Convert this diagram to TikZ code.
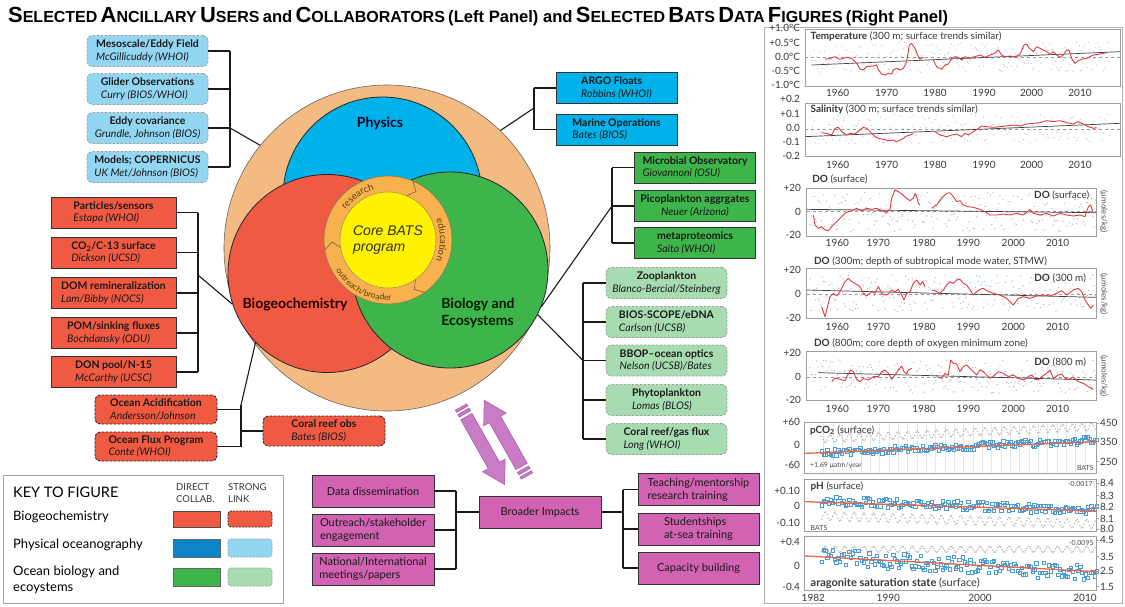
\documentclass[tikz,border=0pt]{standalone}
\usepackage{fontspec}
\setmainfont{Lato}
\newfontfamily\titlefont{Liberation Sans}
\newfontfamily\corefont{Liberation Sans}
\usepackage{graphicx}
\usetikzlibrary{decorations.text}
\definecolor{cblue}{HTML}{00B2EA}
\definecolor{clblue}{HTML}{93D6F2}
\definecolor{cred}{HTML}{F15A42}
\definecolor{cgreen}{HTML}{3DB54A}
\definecolor{clgreen}{HTML}{A7DCB1}
\definecolor{cpeach}{HTML}{F3BA82}
\definecolor{cring}{HTML}{F7B24E}
\definecolor{cyel}{HTML}{FFF200}
\definecolor{cmag}{HTML}{D262B2}
\definecolor{carrow}{HTML}{C97BC6}
\definecolor{carrowd}{HTML}{A257A0}
\definecolor{ckeyblue}{HTML}{0D84C9}
\definecolor{cdot}{HTML}{8EA3DA}
\definecolor{cline}{HTML}{E23A3A}
\definecolor{csq}{HTML}{4A9CD3}
\definecolor{corange}{HTML}{E8664A}
\definecolor{ringtext}{HTML}{5A3A10}
\newcommand\TitleWord[2]{{\fontsize{18.5}{20}\selectfont #1}{\fontsize{13.5}{15}\selectfont #2}}
\newcommand\TitleSmall[1]{{\fontsize{14}{15}\selectfont #1}}
\begin{document}
\begin{tikzpicture}[x=1pt,y=-1pt,
 bx/.style={minimum width=121pt, minimum height=31pt, inner sep=1pt, font=\fontsize{10.5}{12.5}\selectfont, align=left, text=black!90},
 sbox/.style={bx, draw=black!80, line width=0.9pt},
 lbbox/.style={bx, fill=clblue, draw=gray!75, dash pattern=on 2.5pt off 1.5pt, rounded corners=5pt, line width=0.8pt},
 lgbox/.style={bx, fill=clgreen, draw=gray!75, dash pattern=on 2.5pt off 1.5pt, rounded corners=5pt, line width=0.8pt},
 rdbox/.style={bx, fill=cred, draw=black!85, dash pattern=on 2.5pt off 1.5pt, rounded corners=5pt, line width=0.9pt, minimum height=29pt},
 mbox/.style={sbox, fill=cmag, minimum height=32pt, font=\fontsize{11}{13}\selectfont},
 link/.style={draw=black!90, line width=1.1pt},
 venn/.style={circle, draw=black!85, line width=0.8pt, inner sep=0pt},
 clabel/.style={font=\bfseries\fontsize{14}{16.5}\selectfont, align=left},
 arr/.style={fill=carrow, draw=carrowd, line width=0.5pt},
 ringline/.style={draw=ringtext!80, line width=0.6pt},
 pframe/.style={draw=gray!75, line width=0.6pt},
 zero/.style={draw=gray!80, dashed, line width=0.5pt},
 trend/.style={draw=black!75, line width=0.7pt},
 redl/.style={draw=cline, line width=0.9pt, line join=round},
 ctxt/.style={font=\fontsize{10}{11}\selectfont, text=black!78, inner sep=0.5pt},
 stxt/.style={font=\fontsize{7}{8}\selectfont, text=black!70, inner sep=0.5pt},
 sq/.style={draw=csq, line width=0.45pt},
 keytxt/.style={font=\fontsize{13}{15.5}\selectfont, anchor=west, align=left, inner sep=0pt}
]
\useasboundingbox (0,0) rectangle (1125,606);
\pgfmathsetseed{7}

% ---------- title ----------
\node[anchor=west, inner sep=0pt] (title) at (8,17) {\resizebox{940pt}{!}{\titlefont\bfseries
 \TitleWord{S}{ELECTED} \TitleWord{A}{NCILLARY} \TitleWord{U}{SERS} \TitleSmall{and} \TitleWord{C}{OLLABORATORS} \TitleSmall{(Left Panel) and} \TitleWord{S}{ELECTED} \TitleWord{B}{ATS} \TitleWord{D}{ATA} \TitleWord{F}{IGURES} \TitleSmall{(Right Panel)}}};

% ---------- Venn ----------
\node[circle, draw=black!60, line width=0.6pt, fill=cpeach, minimum size=326pt, inner sep=0pt] (outer) at (387,248) {};
\node[venn, fill=cblue, minimum size=199pt] (phys) at (382.5,196.5) {};
\node[venn, fill=cred, minimum size=198pt] (bgc) at (327,273.5) {};
\node[venn, fill=cgreen, minimum size=196pt] (bio) at (450,270) {};
\node[circle, draw=ringtext!70, line width=0.6pt, fill=cring, minimum size=128pt, inner sep=0pt] (ring) at (388,240) {};
\node[circle, draw=ringtext!60, line width=0.5pt, fill=cyel, minimum size=96pt, inner sep=0pt] (core) at (388,240) {};
\node[font=\corefont\itshape\fontsize{14}{16}\selectfont, text=black!80, align=left] (coretxt) at (388,240) {Core BATS\\program};
\begin{scope}[shift={(388,240)}, y=1pt]
 \path[decorate, decoration={text along path, text align=center, text={|\fontsize{9.5}{10}\selectfont\color{ringtext}|research}}] (160:52) arc[start angle=160, end angle=90, radius=52];
 \path[decorate, decoration={text along path, text align=center, text={|\fontsize{9.5}{10}\selectfont\color{ringtext}|education}}] (45:52) arc[start angle=45, end angle=-45, radius=52];
 \path[decorate, decoration={text along path, text align=center, text={|\fontsize{8.5}{9}\selectfont\color{ringtext}|outreach/broader}}] (190:60.5) arc[start angle=190, end angle=294, radius=60.5];
 \draw[ringline] (67:64) -- (60:56) -- (67:48);
 \draw[ringline] (189:64) -- (182:56) -- (189:48);
 \draw[ringline] (305:64) -- (298:56) -- (305:48);
\end{scope}
\node[clabel, text=black!85!blue] (physlbl) at (380,123) {Physics};
\node[clabel, text=black!85!red] (bgclbl) at (295,305) {Biogeochemistry};
\node[clabel, text=black!90!green] (biolbl) at (478,313) {Biology and\\Ecosystems};

% ---------- left light blue ----------
\node[lbbox] (lb1) at (147.5,51) {\textbf{Mesoscale/Eddy Field}\\\textit{McGillicuddy (WHOI)}};
\node[lbbox] (lb2) at (147.5,89) {\textbf{Glider Observations}\\\textit{Curry (BIOS/WHOI)}};
\node[lbbox, align=center] (lb3) at (147.5,128) {\textbf{Eddy covariance}\\\textit{Grundle, Johnson (BIOS)}};
\node[lbbox] (lb4) at (147.5,167) {\textbf{Models; COPERNICUS}\\\textit{UK Met/Johnson (BIOS)}};
\coordinate (lbj) at (230,128);
\foreach \n in {lb1,lb2,lb3,lb4} \draw[link] (\n.east) -- (\n.east -| lbj);
\draw[link] (lb1.east -| lbj) -- (lb4.east -| lbj);
\draw[link] (lbj) -- (outer.141);

% ---------- right blue ----------
\node[sbox, fill=cblue] (rb1) at (616.5,88) {\textbf{ARGO Floats}\\\textit{Robbins (WHOI)}};
\node[sbox, fill=cblue] (rb2) at (616.5,129.5) {\textbf{Marine Operations}\\\textit{Bates (BIOS)}};
\coordinate (rbj) at (534,108);
\foreach \n in {rb1,rb2} \draw[link] (\n.west) -- (\n.west -| rbj);
\draw[link] (rb1.west -| rbj) -- (rb2.west -| rbj);
\draw[link] (rbj) -- (outer.46);

% ---------- green ----------
\node[sbox, fill=cgreen] (g1) at (695,167.5) {\textbf{Microbial Observatory}\\\textit{Giovannoni (OSU)}};
\node[sbox, fill=cgreen, align=center] (g2) at (695,206) {\textbf{Picoplankton aggrgates}\\\textit{Neuer (Arizona)}};
\node[sbox, fill=cgreen] (g3) at (695,243) {\textbf{metaproteomics}\\\textit{Saito (WHOI)}};
\coordinate (gj) at (612,206);
\foreach \n in {g1,g2,g3} \draw[link] (\n.west) -- (\n.west -| gj);
\draw[link] (g1.west -| gj) -- (g3.west -| gj);
\draw[link] (gj) -- (bio.338);

% ---------- light green ----------
\node[lgbox, align=center] (lg1) at (666.5,283) {\textbf{Zooplankton}\\\textit{Blanco-Bercial/Steinberg}};
\node[lgbox] (lg2) at (666.5,322) {\textbf{BIOS-SCOPE/eDNA}\\\textit{Carlson (UCSB)}};
\node[lgbox] (lg3) at (666.5,360.5) {\textbf{BBOP–ocean optics}\\\textit{Nelson (UCSB)/Bates}};
\node[lgbox] (lg4) at (666.5,400) {\textbf{Phytoplankton}\\\textit{Lomas (BLOS)}};
\node[lgbox] (lg5) at (666.5,439) {\textbf{Coral reef/gas flux}\\\textit{Long (WHOI)}};
\coordinate (lgj) at (583,360.5);
\foreach \n in {lg1,lg2,lg3,lg4,lg5} \draw[link] (\n.west) -- (\n.west -| lgj);
\draw[link] (lg1.west -| lgj) -- (lg5.west -| lgj);
\draw[link] (lgj) -- (bio.333);

% ---------- red solid ----------
\node[sbox, fill=cred, minimum width=125pt] (rs1) at (113.5,212.5) {\textbf{Particles/sensors}\\\textit{Estapa (WHOI)}};
\node[sbox, fill=cred, minimum width=125pt] (rs2) at (113.5,252.5) {\textbf{CO\textsubscript{2}/C-13 surface}\\\textit{Dickson (UCSD)}};
\node[sbox, fill=cred, minimum width=125pt] (rs3) at (113.5,293) {\textbf{DOM remineralization}\\\textit{Lam/Bibby (NOCS)}};
\node[sbox, fill=cred, minimum width=125pt] (rs4) at (113.5,333) {\textbf{POM/sinking fluxes}\\\textit{Bochdansky (ODU)}};
\node[sbox, fill=cred, minimum width=125pt] (rs5) at (113.5,372) {\textbf{DON pool/N-15}\\\textit{McCarthy (UCSC)}};
\coordinate (rsj) at (198,275);
\foreach \n in {rs1,rs2,rs3,rs4,rs5} \draw[link] (\n.east) -- (\n.east -| rsj);
\draw[link] (rs1.east -| rsj) -- (rs5.east -| rsj);
\draw[link] (rsj) -- (bgc.198);

% ---------- red dashed ----------
\node[rdbox, minimum width=122pt] (rd1) at (156,409.5) {\textbf{Ocean Acidification}\\\textit{Andersson/Johnson}};
\node[rdbox, minimum width=122pt] (rd2) at (156,446.5) {\textbf{Ocean Flux Program}\\\textit{Conte (WHOI)}};
\node[rdbox, minimum width=122pt, minimum height=30pt] (coral) at (324,431) {\textbf{Coral reef obs}\\\textit{Bates (BIOS)}};
\coordinate (rdj) at (241,405);
\draw[link] (rd1.east) -- (rd1.east -| rdj);
\draw[link] (rd2.east) -- (rd2.east -| rdj);
\draw[link] (coral.west) -- (coral.west -| rdj);
\draw[link] (rdj) -- (rd2.east -| rdj);
\draw[link] (rdj) -- (bgc.224);

% ---------- magenta arrows ----------
\begin{scope}[shift={(461,407)}, rotate=-60.6]
 \filldraw[arr] (0,-6.5) rectangle (2.5,6.5);
 \filldraw[arr] (5,-6.5) rectangle (8,6.5);
 \filldraw[arr] (11,-6.5) -- (67,-6.5) -- (67,-13) -- (89,0) -- (67,13) -- (67,6.5) -- (11,6.5) -- cycle;
\end{scope}
\begin{scope}[shift={(527,476)}, rotate=119.5]
 \filldraw[arr] (0,-6.5) rectangle (2.5,6.5);
 \filldraw[arr] (5,-6.5) rectangle (8,6.5);
 \filldraw[arr] (11,-6.5) -- (65,-6.5) -- (65,-13) -- (87,0) -- (65,13) -- (65,6.5) -- (11,6.5) -- cycle;
\end{scope}

% ---------- magenta boxes ----------
\node[mbox, minimum width=122pt, align=center] (m1) at (373,491) {Data dissemination};
\node[mbox, minimum width=122pt] (m2) at (373,530) {Outreach/stakeholder\\engagement};
\node[mbox, minimum width=122pt] (m3) at (373,569) {National/International\\meetings/papers};
\node[mbox, minimum width=122pt, align=center] (bi) at (540,512) {Broader Impacts};
\node[mbox] (t1) at (698.5,489.5) {Teaching/mentorship\\research training};
\node[mbox] (t2) at (698.5,529) {Studentships\\at-sea training};
\node[mbox, align=center] (t3) at (698.5,568) {Capacity building};
\coordinate (mlj) at (456,512);
\coordinate (mrj) at (623,512);
\foreach \n in {m1,m2,m3} \draw[link] (\n.east) -- (\n.east -| mlj);
\draw[link] (m1.east -| mlj) -- (m3.east -| mlj);
\draw[link] (mlj) -- (bi.west);
\foreach \n in {t1,t2,t3} \draw[link] (\n.west) -- (\n.west -| mrj);
\draw[link] (t1.west -| mrj) -- (t3.west -| mrj);
\draw[link] (bi.east) -- (mrj);

% ---------- key ----------
\draw[draw=gray!70, line width=0.8pt] (3,475) rectangle (283,603);
\node[keytxt, font=\fontsize{14.5}{16}\selectfont] (keyt) at (13,492) {KEY TO FIGURE};
\node[keytxt, font=\fontsize{9.5}{11.5}\selectfont, text=black!80] (keyd) at (176,493) {DIRECT\\COLLAB.};
\node[keytxt, font=\fontsize{9.5}{11.5}\selectfont, text=black!80] (keys) at (228,493) {STRONG\\LINK};
\node[keytxt] (k1) at (13,517) {Biogeochemistry};
\node[keytxt] (k2) at (13,545) {Physical oceanography};
\node[keytxt] (k3) at (13,580) {Ocean biology and\\ecoystems};
\draw[fill=cred, draw=black!70, line width=0.6pt] (173,511) rectangle (220,527);
\draw[fill=cred, draw=black!85, dash pattern=on 2pt off 1.2pt, rounded corners=3pt, line width=0.8pt] (228,511) rectangle (272,527);
\draw[fill=ckeyblue, draw=black!60, line width=0.6pt] (173,539) rectangle (220,557);
\draw[fill=clblue, draw=gray!75, dash pattern=on 2pt off 1.2pt, rounded corners=3pt, line width=0.7pt] (228,539) rectangle (272,557);
\draw[fill=cgreen, draw=black!60, line width=0.6pt] (173,568) rectangle (220,586);
\draw[fill=clgreen, draw=gray!75, dash pattern=on 2pt off 1.2pt, rounded corners=3pt, line width=0.7pt] (228,568) rectangle (272,586);

% ---------- right panel ----------
\draw[draw=gray!60, line width=1pt] (764,27) rectangle (1122,603);

% Temperature & Salinity
\begin{scope}[shift={(760,0)}, scale=1/3]
 \foreach \i in {0,...,225}{\pgfmathsetmacro\xx{150+4*\i}\pgfmathsetmacro\yy{172+45*rand}\fill[cdot!55] (\xx,\yy) circle[radius=2.2];}
 \draw[pframe] (135,88) rectangle (1080,258);
 \draw[zero] (135,172) -- (1080,172);
 \draw[trend] (155,195) -- (1080,155);
 \draw[redl] (195,178)--(210,175)--(225,170)--(240,178)--(260,172)--(275,175)--(290,190)--(300,207)--(310,210)--(320,200)--(340,198)--(350,195)--(355,210)--(365,222)--(375,225)--(385,220)--(395,222)--(400,210)--(410,205)--(420,210)--(430,205)--(440,185)--(448,135)--(455,130)--(465,145)--(475,170)--(480,178)--(490,172);
 \draw[redl] (520,180)--(530,200)--(545,208)--(555,195)--(565,192)--(575,175)--(585,170)--(595,172)--(605,180)--(615,170)--(630,175)--(645,170)--(660,165)--(675,172)--(690,165)--(705,160)--(715,150)--(725,165)--(735,170)--(750,168)--(765,172)--(780,162)--(792,135)--(800,132)--(808,145)--(815,150)--(820,155)--(830,140)--(840,145)--(850,150)--(860,155)--(870,163)--(880,155)--(890,165)--(900,172)--(910,165)--(920,150)--(928,152)--(935,175)--(945,190)--(955,182)--(965,178)--(980,175)--(1000,165)--(1020,162)--(1040,158);
 \node[ctxt, anchor=east] at (122,85) {+1.0°C};
 \node[ctxt, anchor=east] at (122,130) {+0.5°C};
 \node[ctxt, anchor=east] at (122,172) {0.0°C};
 \node[ctxt, anchor=east] at (122,213) {-0.5°C};
 \node[ctxt, anchor=east] at (122,255) {-1.0°C};
 \foreach \yr/\xx in {1960/233,1970/380,1980/525,1990/672,2000/815,2010/960} \node[ctxt] at (\xx,278) {\yr};
 \node[ctxt, anchor=west] at (150,108) {\textbf{Temperature} (300 m; surface trends similar)};
 % salinity
 \foreach \i in {0,...,225}{\pgfmathsetmacro\xx{150+4*\i}\pgfmathsetmacro\yy{387+45*rand}\fill[cdot!55] (\xx,\yy) circle[radius=2.2];}
 \draw[pframe] (135,310) rectangle (1080,470);
 \draw[zero] (135,387) -- (1080,387);
 \draw[trend] (135,410) -- (1080,370);
 \draw[redl] (185,398)--(200,400)--(215,405)--(225,385)--(235,382)--(245,395)--(260,405)--(270,400)--(285,402)--(300,390)--(310,382)--(320,385)--(330,395)--(345,410)--(355,415)--(370,418)--(385,422)--(400,420)--(410,425)--(420,420)--(430,415)--(440,408)--(450,405)--(460,400);
 \draw[redl] (525,395)--(540,405)--(560,410)--(575,405)--(590,402)--(605,410)--(615,400)--(625,405)--(640,395)--(655,385)--(665,378)--(680,380)--(700,382)--(720,380)--(740,378)--(760,375)--(780,378)--(800,372)--(820,370)--(840,368)--(860,362)--(880,365)--(900,362)--(920,368)--(940,372)--(955,365)--(970,372)--(985,380)--(1000,385)--(1010,383);
 \node[ctxt, anchor=east] at (122,298) {+0.2};
 \node[ctxt, anchor=east] at (122,342) {+0.1};
 \node[ctxt, anchor=east] at (122,385) {0.0};
 \node[ctxt, anchor=east] at (122,425) {-0.1};
 \node[ctxt, anchor=east] at (122,468) {-0.2};
 \foreach \yr/\xx in {1960/233,1970/380,1980/525,1990/672,2000/815,2010/960} \node[ctxt] at (\xx,495) {\yr};
 \node[ctxt, anchor=west] at (150,328) {\textbf{Salinity} (300 m; surface trends similar)};
\end{scope}

% DO charts
\begin{scope}[shift={(760,170)}, scale=1/3]
 % surface
 \foreach \i in {0,...,210}{\pgfmathsetmacro\xx{150+4.1*\i}\pgfmathsetmacro\yy{125+60*rand}\fill[cdot!75] (\xx,\yy) circle[radius=2.2];}
 \draw[pframe] (140,55) rectangle (1008,200);
 \draw[zero] (140,125) -- (1008,125);
 \draw[trend] (140,118) -- (1008,128);
 \draw[redl] (160,135)--(165,165)--(175,175)--(185,170)--(195,180)--(205,182)--(215,170)--(225,160)--(235,150)--(245,140)--(255,130)--(265,125)--(275,122)--(290,115)--(305,122)--(320,115)--(335,118)--(350,115)--(365,122)--(380,128)--(390,118)--(395,85)--(405,60)--(415,65)--(425,72)--(440,85)--(450,92)--(460,85)--(465,70)--(470,80)--(475,100)--(480,105);
 \draw[redl] (515,115)--(530,105)--(545,85)--(560,70)--(570,68)--(580,80)--(590,95)--(600,92)--(610,105)--(625,110)--(640,112)--(660,118)--(675,125)--(690,135)--(710,135)--(730,132)--(750,135)--(770,130)--(790,135)--(810,118)--(820,130)--(840,135)--(860,130)--(880,138)--(900,130)--(920,135)--(940,138)--(960,135)--(975,140)--(985,110)--(992,105)--(1000,130);
 \node[ctxt, anchor=west] at (155,28) {\textbf{DO} (surface)};
 \node[ctxt, anchor=east] at (990,75) {\textbf{DO} (surface)};
 \node[ctxt, anchor=east] at (125,55) {+20};
 \node[ctxt, anchor=east] at (125,125) {0};
 \node[ctxt, anchor=east] at (125,195) {-20};
 \foreach \yr/\xx in {1960/232,1970/355,1980/492,1990/625,2000/760,2010/893} \node[ctxt] at (\xx,220) {\yr};
 \node[stxt, rotate=-90, font=\fontsize{8}{9}\selectfont] at (1032,125) {(μmoles/kg)};
 % 300 m
 \foreach \i in {0,...,210}{\pgfmathsetmacro\xx{150+4.1*\i}\pgfmathsetmacro\yy{370+55*rand}\fill[cdot!75] (\xx,\yy) circle[radius=2.2];}
 \draw[pframe] (140,295) rectangle (1008,445);
 \draw[zero] (140,373) -- (1008,373);
 \draw[trend] (140,360) -- (1008,382);
 \draw[redl] (185,410)--(195,440)--(205,400)--(210,380)--(220,370)--(230,378)--(240,365)--(255,335)--(265,325)--(275,335)--(285,340)--(300,350)--(310,370)--(320,378)--(335,365)--(345,370)--(355,350)--(365,370)--(375,375)--(385,372)--(395,360)--(405,365)--(415,358)--(425,375)--(432,390)--(440,370)--(450,365)--(460,340)--(470,330)--(480,345)--(488,335)--(495,350);
 \draw[redl] (515,360)--(525,362)--(540,370)--(550,360)--(560,345)--(570,335)--(580,340)--(590,330)--(600,328)--(610,340)--(620,345)--(630,360)--(640,375)--(650,365)--(660,358)--(670,355)--(680,362)--(700,370)--(720,375)--(740,385)--(760,405)--(775,385)--(790,380)--(810,385)--(830,378)--(850,375)--(870,378)--(890,370)--(905,362)--(920,375)--(940,360)--(955,355)--(965,365)--(975,390)--(985,405)--(992,415)--(1000,405);
 \node[ctxt, anchor=west] at (160,275) {\textbf{DO} (300m; depth of subtropical mode water, STMW)};
 \node[ctxt, anchor=east] at (980,325) {\textbf{DO} (300 m)};
 \node[ctxt, anchor=east] at (125,300) {+20};
 \node[ctxt, anchor=east] at (125,373) {0};
 \node[ctxt, anchor=east] at (125,445) {-20};
 \foreach \yr/\xx in {1960/232,1970/355,1980/492,1990/625,2000/760,2010/893} \node[ctxt] at (\xx,470) {\yr};
 \node[stxt, rotate=-90, font=\fontsize{8}{9}\selectfont] at (1032,373) {(μmoles/kg)};
 % 800 m
 \foreach \i in {0,...,210}{\pgfmathsetmacro\xx{150+4.1*\i}\pgfmathsetmacro\yy{620+50*rand}\fill[cdot!75] (\xx,\yy) circle[radius=2.2];}
 \draw[pframe] (140,545) rectangle (1008,690);
 \draw[zero] (140,622) -- (1008,622);
 \draw[trend] (175,608) -- (1008,630);
 \draw[redl] (215,635)--(225,625)--(240,628)--(255,632)--(265,612)--(272,600)--(280,605)--(290,628)--(300,635)--(310,625)--(325,630)--(340,620)--(355,620)--(365,605)--(375,600)--(385,610)--(395,628)--(405,615)--(415,600)--(425,588)--(432,605)--(440,612)--(445,600)--(455,595);
 \draw[redl] (530,620)--(545,625)--(555,610)--(565,615)--(572,570)--(580,580)--(590,582)--(600,605)--(610,590)--(620,585)--(630,595)--(640,605)--(650,615)--(660,600)--(670,605)--(680,615)--(690,625)--(705,615)--(715,605)--(730,610)--(745,620)--(760,615)--(775,625)--(790,630)--(805,620)--(815,615)--(825,628)--(835,630)--(845,620)--(860,610)--(870,600)--(880,625)--(895,615)--(905,612)--(915,625)--(925,628)--(940,622)--(955,635)--(970,640)--(985,650)--(1000,658);
 \node[ctxt, anchor=west] at (160,520) {\textbf{DO} (800m; core depth of oxygen minimum zone)};
 \node[ctxt, anchor=east] at (980,578) {\textbf{DO} (800 m)};
 \node[ctxt, anchor=east] at (125,550) {+20};
 \node[ctxt, anchor=east] at (125,622) {0};
 \node[ctxt, anchor=east] at (125,690) {-20};
 \foreach \yr/\xx in {1960/232,1970/355,1980/492,1990/625,2000/760,2010/893} \node[ctxt] at (\xx,718) {\yr};
 \node[stxt, rotate=-90, font=\fontsize{8}{9}\selectfont] at (1032,618) {(μmoles/kg)};
\end{scope}

% carbonate charts
\begin{scope}[shift={(760,440)}, scale=1/3]
 % pCO2
 \foreach \xx in {190,218,...,1000} \draw[gray!20, line width=0.3pt] (\xx,-54) -- (\xx,100);
 \foreach \i in {0,...,200}{\pgfmathsetmacro\xx{185+4.1*\i}\pgfmathsetmacro\yy{8-0.045*(\xx-185)-22*(0.5+0.5*sin(12.4*\xx))}\fill[gray!55] (\xx,\yy) circle[radius=2.6];}
 \foreach \i in {0,...,150}{\pgfmathsetmacro\xx{185+5.5*\i}\pgfmathsetmacro\yy{38-0.045*(\xx-185)+11*rand}\draw[sq] (\xx-5,\yy-5) rectangle ++(10,10);}
 \draw[pframe] (133,-54) rectangle (1010,100);
 \draw[draw=corange, line width=1.3pt] (135,40) -- (1010,5);
 \node[ctxt, anchor=east] at (122,-53) {+60};
 \node[ctxt, anchor=east] at (122,15) {0};
 \node[ctxt, anchor=east] at (122,75) {-60};
 \node[ctxt, anchor=west] at (1018,-50) {450};
 \node[ctxt, anchor=west] at (1018,5) {350};
 \node[ctxt, anchor=west] at (1018,65) {250};
 \foreach \yy in {-50,5,65} \draw[gray!70, line width=0.4pt] (1010,\yy) -- (1018,\yy);
 \node[ctxt, anchor=west] at (148,-30) {\textbf{pCO\textsubscript{2}} (surface)};
 \node[stxt, anchor=west] at (148,78) {+1.69 μatm/year};
 \node[stxt, anchor=east] at (1003,83) {BATS};
 % pH
 \foreach \i in {0,...,200}{\pgfmathsetmacro\xx{185+4.1*\i}\pgfmathsetmacro\yy{228+0.03*(\xx-185)+13*sin(12.4*\xx)}\fill[gray!55] (\xx,\yy) circle[radius=2.6];}
 \foreach \i in {0,...,150}{\pgfmathsetmacro\xx{185+5.5*\i}\pgfmathsetmacro\yy{182+0.035*(\xx-185)+14*rand}\draw[sq] (\xx-5,\yy-5) rectangle ++(10,10);}
 \draw[pframe] (133,118) rectangle (1010,275);
 \draw[draw=corange, line width=1.3pt] (135,185) -- (1010,213);
 \node[ctxt, anchor=east] at (122,152) {+0.10};
 \node[ctxt, anchor=east] at (122,197) {0};
 \node[ctxt, anchor=east] at (122,248) {-0.10};
 \foreach \v/\yy in {8.4/130,8.3/167,8.2/202,8.1/236,8.0/268} {\node[ctxt, anchor=west] at (1018,\yy) {\v}; \draw[gray!70, line width=0.4pt] (1010,\yy) -- (1018,\yy);}
 \node[ctxt, anchor=west] at (150,140) {\textbf{pH} (surface)};
 \node[stxt, anchor=east] at (1000,132) {-0.0017};
 \node[stxt, anchor=west] at (150,265) {BATS};
 % aragonite
 \foreach \i in {0,...,200}{\pgfmathsetmacro\xx{185+4.1*\i}\pgfmathsetmacro\yy{328+9*sin(12.4*\xx)}\fill[gray!55] (\xx,\yy) circle[radius=2.6];}
 \foreach \i in {0,...,150}{\pgfmathsetmacro\xx{185+5.5*\i}\pgfmathsetmacro\yy{350+0.06*(\xx-185)+24*rand}\draw[sq] (\xx-5,\yy-5) rectangle ++(10,10);}
 \draw[pframe] (133,290) rectangle (1010,450);
 \draw[draw=corange, line width=1.3pt] (135,348) -- (1010,395);
 \node[ctxt, anchor=east] at (122,305) {+0.4};
 \node[ctxt, anchor=east] at (122,378) {0};
 \node[ctxt, anchor=east] at (122,440) {-0.4};
 \foreach \v/\yy in {4.5/300,3.5/350,2.5/393,1.5/440} {\node[ctxt, anchor=west] at (1018,\yy) {\v}; \draw[gray!70, line width=0.4pt] (1010,\yy) -- (1018,\yy);}
 \node[ctxt, anchor=west, font=\fontsize{11}{12}\selectfont] at (150,430) {\textbf{aragonite saturation state} (surface)};
 \node[stxt, anchor=east] at (1003,308) {-0.0095};
 \foreach \yr/\xx in {1982/160,1990/385,2000/660,2010/975} \node[ctxt] at (\xx,475) {\yr};
\end{scope}
\end{tikzpicture}
\end{document}
